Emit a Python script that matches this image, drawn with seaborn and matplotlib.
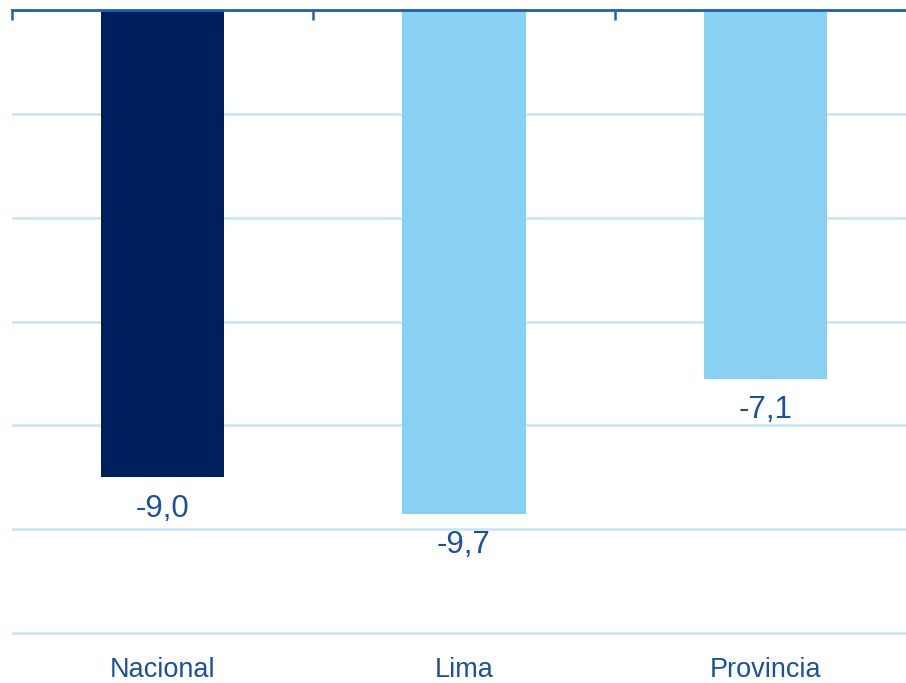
import matplotlib
matplotlib.use("Agg")
import matplotlib.pyplot as plt
import seaborn as sns
import pandas as pd

# Variación por ámbito (%)
categorias = ["Nacional", "Lima", "Provincia"]
valores = [-9.0, -9.7, -7.1]
colores = ["#001F5E", "#89D1F2", "#89D1F2"]

sns.set_style("white")
plt.rcParams["font.family"] = ["Liberation Sans", "DejaVu Sans"]

texto = "#1A50A0"
eje = "#2060B0"
rejilla = "#C3E7F8"

df = pd.DataFrame({"categoria": categorias, "valor": valores})

fig = plt.figure(figsize=(9.06, 6.83), dpi=100)
ax = fig.add_axes([12 / 906, 1 - 633 / 683, 904 / 906, 623 / 683])

sns.barplot(data=df, x="categoria", y="valor", hue="categoria",
            palette=colores, width=0.41, legend=False, ax=ax,
            saturation=1, linewidth=0, zorder=3)

ax.set_xlim(-0.5, 2.5)
ax.set_ylim(-12, 0)
ax.set_yticks([-12, -10, -8, -6, -4, -2, 0])
ax.set_yticklabels([])
ax.tick_params(axis="y", length=0)
ax.yaxis.grid(True, color=rejilla, linewidth=1.8, zorder=0)
for linea in ax.yaxis.get_gridlines():
    linea.set_clip_on(False)
ax.xaxis.grid(False)
ax.set_axisbelow(True)

for lado in ["left", "right", "bottom"]:
    ax.spines[lado].set_visible(False)
ax.spines["top"].set_color(eje)
ax.spines["top"].set_linewidth(2)
ax.spines["top"].set_zorder(5)

# category labels below, separator ticks along the top line
ax.set_xticks([0, 1, 2])
ax.set_xticklabels(categorias, fontsize=19.5, color=texto)
ax.set_xticks([-0.5, 0.5, 1.5, 2.5], minor=True)
ax.tick_params(axis="x", which="major", length=0, pad=17)
ax.tick_params(axis="x", which="minor", bottom=False, top=True,
               direction="in", length=7, width=1.8, color=eje)
ax.set_xlabel("")
ax.set_ylabel("")

for cont in ax.containers:
    etiquetas = [f"{b.get_height():.1f}".replace(".", ",") for b in cont]
    ax.bar_label(cont, labels=etiquetas, padding=12, fontsize=22.5,
                 color=texto)

fig.savefig("out.png", dpi=100)
